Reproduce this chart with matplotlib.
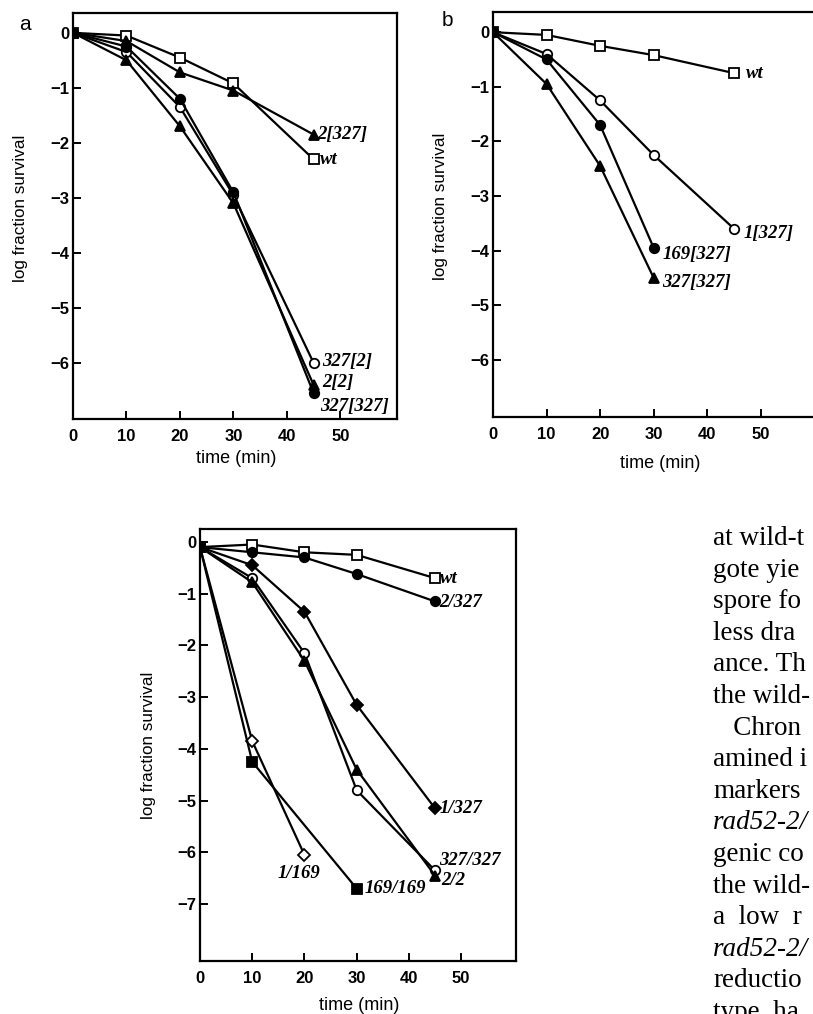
import numpy as np
import matplotlib
matplotlib.use("Agg")
import matplotlib.pyplot as plt

plt.rcParams['axes.unicode_minus'] = True
plt.rcParams['font.family'] = ['Liberation Sans', 'DejaVu Sans']

# === Data (log fraction survival vs time, min) ===
# panel a
a_wt_t = [0, 10, 20, 30, 45]
a_wt = [0, -0.05, -0.45, -0.92, -2.3]
a_2_327_t = [0, 10, 20, 30, 45]
a_2_327 = [0, -0.15, -0.72, -1.05, -1.85]
a_327_2_t = [0, 10, 20, 30, 45]
a_327_2 = [0, -0.35, -1.35, -2.95, -6.0]
a_2_2_t = [0, 10, 20, 30, 45]
a_2_2 = [0, -0.5, -1.7, -3.1, -6.4]
a_327_327_t = [0, 10, 20, 30, 45]
a_327_327 = [0, -0.25, -1.2, -2.9, -6.55]

# panel b
b_wt_t = [0, 10, 20, 30, 45]
b_wt = [0, -0.05, -0.25, -0.42, -0.75]
b_1_327_t = [0, 10, 20, 30, 45]
b_1_327 = [0, -0.4, -1.25, -2.25, -3.6]
b_169_327_t = [0, 10, 20, 30]
b_169_327 = [0, -0.5, -1.7, -3.95]
b_327_327_t = [0, 10, 20, 30]
b_327_327 = [0, -0.95, -2.45, -4.5]

# panel c
c_wt_t = [0, 10, 20, 30, 45]
c_wt = [-0.1, -0.05, -0.2, -0.25, -0.7]
c_2_327_t = [0, 10, 20, 30, 45]
c_2_327 = [-0.1, -0.2, -0.3, -0.62, -1.15]
c_1_327_t = [0, 10, 20, 30, 45]
c_1_327 = [-0.1, -0.45, -1.35, -3.15, -5.15]
c_327_327_t = [0, 10, 20, 30, 45]
c_327_327 = [-0.1, -0.7, -2.15, -4.8, -6.35]
c_2_2_t = [0, 10, 20, 30, 45]
c_2_2 = [-0.1, -0.78, -2.3, -4.4, -6.45]
c_1_169_t = [0, 10, 20]
c_1_169 = [-0.1, -3.85, -6.05]
c_169_169_t = [0, 10, 30]
c_169_169 = [-0.1, -4.25, -6.7]

xticks = [0, 10, 20, 30, 40, 50]

# visible part of the body text column on the right
body_lines = ["at wild-t", "gote yie", "spore fo", "less dra",
              "ance. Th", "the wild-", "   Chron", "amined i",
              "markers", "rad52-2/", "genic co", "the wild-",
              "a  low  r", "rad52-2/", "reductio", "type  ha"]
body_italic = [False] * 16
body_italic[9] = True
body_italic[13] = True

# === Figure ===
W, H = 813, 1014
fig = plt.figure(figsize=(W / 100, H / 100), dpi=100)


def box(l, t, r, b):
    return [l / W, 1 - b / H, (r - l) / W, (b - t) / H]


def style(ax, ylim, yticks):
    ax.set_xlim(0, 60.5)
    ax.set_ylim(*ylim)
    ax.set_xticks(xticks)
    ax.set_yticks(yticks)
    ax.set_xticklabels([str(v) for v in xticks])
    ax.set_yticklabels([str(v).replace('-', '\u2212') for v in yticks])
    for s in ax.spines.values():
        s.set_linewidth(1.6)
    ax.tick_params(direction='in', length=6, width=1.4, labelsize=12)
    ax.tick_params(axis='x', pad=7.5)
    ax.tick_params(axis='y', pad=2.5)
    for lab in ax.get_xticklabels() + ax.get_yticklabels():
        lab.set_fontweight('bold')
    ax.set_ylabel("log fraction survival", fontsize=12.3)
    ax.set_xlabel("time (min)", fontsize=13)


def curve(ax, t, y, marker, filled, ms=6.8):
    ax.plot(t, y, color='black', lw=1.6, marker=marker, ms=ms,
            mfc='black' if filled else 'white', mec='black', mew=1.3)


def tag(ax, x, y, s, ha='left'):
    ax.text(x, y, s, fontsize=13.5, fontweight='bold', fontstyle='italic',
            family='Liberation Serif', ha=ha, va='center')


# --- panel a ---
ax = fig.add_axes(box(73, 13, 397, 419))
curve(ax, a_wt_t, a_wt, 's', False)
curve(ax, a_2_327_t, a_2_327, '^', True)
curve(ax, a_327_2_t, a_327_2, 'o', False)
curve(ax, a_2_2_t, a_2_2, '^', True)
curve(ax, a_327_327_t, a_327_327, 'o', True)
style(ax, (-7.02, 0.36), [0, -1, -2, -3, -4, -5, -6])
ax.set_xlim(0, 60.6)
ax.yaxis.set_label_coords(-0.14, 0.52)
ax.xaxis.set_label_coords(0.503, -0.077)
tag(ax, 45.6, -1.85, "2[327]")
tag(ax, 46.2, -2.3, "wt")
tag(ax, 46.6, -5.98, "327[2]")
tag(ax, 46.6, -6.36, "2[2]")
tag(ax, 46.2, -6.8, "327[327]")
fig.text(25 / W, 1 - 25 / H, "a", fontsize=15, ha='center', va='center')

# --- panel b ---
ax = fig.add_axes(box(493, 12, 817, 417))
curve(ax, b_wt_t, b_wt, 's', False)
curve(ax, b_1_327_t, b_1_327, 'o', False)
curve(ax, b_169_327_t, b_169_327, 'o', True)
curve(ax, b_327_327_t, b_327_327, '^', True)
style(ax, (-7.05, 0.37), [0, -1, -2, -3, -4, -5, -6])
ax.yaxis.set_label_coords(-0.14, 0.52)
ax.xaxis.set_label_coords(0.515, -0.094)
tag(ax, 47.3, -0.75, "wt")
tag(ax, 46.8, -3.69, "1[327]")
tag(ax, 31.6, -4.07, "169[327]")
tag(ax, 31.6, -4.58, "327[327]")
fig.text(447 / W, 1 - 21 / H, "b", fontsize=15, ha='center', va='center')

# --- panel c ---
ax = fig.add_axes(box(200, 529, 516, 961))
curve(ax, c_wt_t, c_wt, 's', False)
curve(ax, c_2_327_t, c_2_327, 'o', True)
curve(ax, c_1_327_t, c_1_327, 'D', True, ms=6.2)
curve(ax, c_327_327_t, c_327_327, 'o', False)
curve(ax, c_2_2_t, c_2_2, '^', True)
curve(ax, c_1_169_t, c_1_169, 'D', False, ms=6.2)
curve(ax, c_169_169_t, c_169_169, 's', True)
style(ax, (-8.1, 0.25), [0, -1, -2, -3, -4, -5, -6, -7])
ax.yaxis.set_label_coords(-0.14, 0.5)
ax.xaxis.set_label_coords(0.503, -0.084)
tag(ax, 46.0, -0.70, "wt")
tag(ax, 45.8, -1.18, "2/327")
tag(ax, 45.9, -5.15, "1/327")
tag(ax, 45.8, -6.16, "327/327")
tag(ax, 46.2, -6.55, "2/2")
tag(ax, 31.6, -6.7, "169/169")
tag(ax, 19.0, -6.4, "1/169", ha='center')

# --- body text on the right ---
for i, line in enumerate(body_lines):
    fig.text(713 / W, 1 - (545 + i * 31.6) / H, line, fontsize=19.5,
             family='Liberation Serif',
             fontstyle='italic' if body_italic[i] else 'normal',
             ha='left', va='baseline')

fig.savefig("out.png", dpi=100)
